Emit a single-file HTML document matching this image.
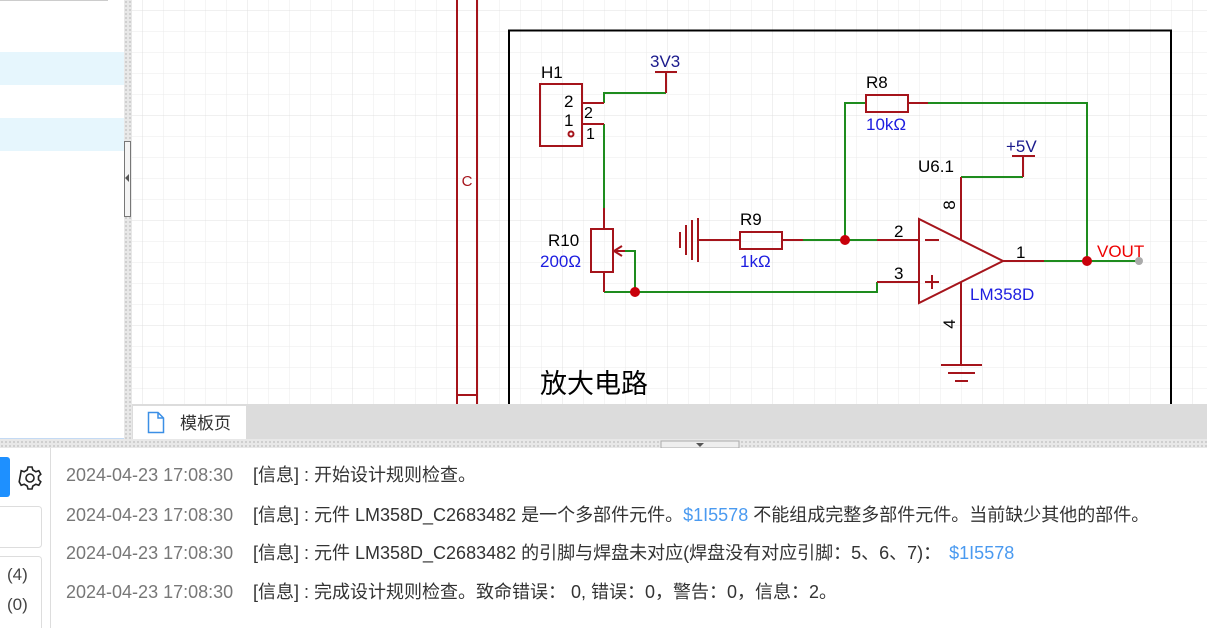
<!DOCTYPE html>
<html><head><meta charset="utf-8"><style>
html,body{margin:0;padding:0;width:1207px;height:628px;overflow:hidden;background:#fff}
svg{display:block}
</style></head><body>
<svg width="1207" height="628" viewBox="0 0 1207 628" xmlns="http://www.w3.org/2000/svg" font-family="'Liberation Sans','Noto Sans CJK SC',sans-serif">
<defs>
<pattern id="g" x="142" y="10" width="21" height="21" patternUnits="userSpaceOnUse">
<path d="M0 0V21M0 0H21" stroke="#ebebeb" stroke-width="1" fill="none"/>
</pattern>
<pattern id="G" x="142" y="10" width="105" height="105" patternUnits="userSpaceOnUse">
<path d="M0 0V105M0 0H105" stroke="#e0e0e0" stroke-width="1" fill="none"/>
</pattern>
<pattern id="dots" width="4" height="4" patternUnits="userSpaceOnUse"><rect width="4" height="4" fill="#e8e8e8"/><rect x="1" y="1" width="2" height="2" fill="#cfcfcf"/></pattern>
</defs>
<rect x="0" y="0" width="124" height="438" fill="#fff"/>
<line x1="0" y1="0.5" x2="108" y2="0.5" stroke="#ccc"/>
<rect x="0" y="52" width="124" height="33" fill="#e6f6fd"/>
<rect x="0" y="118" width="124" height="33" fill="#e6f6fd"/>
<line x1="0" y1="439" x2="124" y2="439" stroke="#8ab4e8"/>
<rect x="124" y="0" width="8" height="440" fill="url(#dots)"/>
<rect x="124.5" y="141.5" width="6" height="75" fill="#f4f4f4" stroke="#777"/>
<path d="M125 178 L129 174 L129 182Z" fill="#555"/>
<rect x="132" y="0" width="1075" height="404" fill="#fff"/>
<rect x="132" y="0" width="1075" height="404" fill="url(#g)"/>
<rect x="132" y="0" width="1075" height="404" fill="url(#G)"/>
<g stroke="#a5141b" stroke-width="2" fill="none">
<line x1="457" y1="0" x2="457" y2="404"/><line x1="477" y1="0" x2="477" y2="404"/>
<line x1="457" y1="395" x2="477" y2="395"/>
</g>
<text x="467" y="186" font-size="15" fill="#a5141b" text-anchor="middle">C</text>
<path d="M509 404 V30.5 H1171 V404" stroke="#000" stroke-width="2" fill="none"/>
<g stroke="#1e8c1e" stroke-width="2" fill="none">
<polyline points="604,103 604,93 666,93"/>
<polyline points="604,124 604,208"/>
<polyline points="604,292 635,292"/>
<polyline points="625,251 635,251 635,292 877,292 877,282"/>
<polyline points="803,240 877,240"/>
<polyline points="845,240 845,103 865,103"/>
<polyline points="928,103 1087,103 1087,261"/>
<polyline points="1044,261 1137,261"/>
<polyline points="961,177 1023,177"/>
</g>
<g stroke="#a5141b" stroke-width="2" fill="none">
<rect x="540" y="84" width="42" height="62"/>
<line x1="582" y1="103" x2="604" y2="103"/>
<line x1="582" y1="124" x2="604" y2="124"/>
<circle cx="571" cy="134" r="2.5"/>
<line x1="666" y1="93" x2="666" y2="72"/>
<line x1="655" y1="72" x2="677" y2="72"/>
<line x1="604" y1="208" x2="604" y2="229"/>
<rect x="591" y="229" width="22" height="43"/>
<line x1="604" y1="272" x2="604" y2="292"/>
<line x1="614" y1="251" x2="625" y2="251"/>
<path d="M614 251 L622 246 M614 251 L622 256"/>
<line x1="686" y1="225" x2="686" y2="255"/>
<line x1="692" y1="220" x2="692" y2="260"/>
<line x1="698" y1="218" x2="698" y2="262"/>
<line x1="680" y1="232" x2="680" y2="248"/>
<line x1="698" y1="240" x2="740" y2="240"/>
<rect x="740" y="232" width="42" height="17"/>
<line x1="782" y1="240" x2="803" y2="240"/>
<line x1="877" y1="240" x2="919" y2="240"/>
<line x1="877" y1="282" x2="919" y2="282"/>
<rect x="866" y="95" width="42" height="17"/>
<line x1="908" y1="103" x2="928" y2="103"/>
<path d="M919 219 L919 303 L1003 261 Z"/>
<line x1="1003" y1="261" x2="1044" y2="261"/>
<line x1="961" y1="240" x2="961" y2="177"/>
<line x1="1023" y1="177" x2="1023" y2="156"/>
<line x1="1012" y1="156" x2="1035" y2="156"/>
<line x1="961" y1="282" x2="961" y2="365"/>
<line x1="941" y1="365" x2="982" y2="365"/>
<line x1="948" y1="373" x2="975" y2="373"/>
<line x1="955" y1="381" x2="968" y2="381"/>
<line x1="925" y1="240" x2="939" y2="240"/>
<line x1="925" y1="282" x2="939" y2="282"/><line x1="932" y1="275" x2="932" y2="289"/>
</g>
<g fill="#c8000a">
<circle cx="635" cy="292" r="5"/><circle cx="845" cy="240" r="5"/><circle cx="1087" cy="261" r="5"/>
</g>
<circle cx="1139" cy="261" r="4" fill="#aaa"/>
<g font-size="17" fill="#000">
<text x="541" y="78">H1</text>
<text x="564" y="107">2</text>
<text x="564" y="126">1</text>
<text x="584" y="118" font-size="16">2</text>
<text x="586" y="139" font-size="16">1</text>
<text x="650" y="67" fill="#1a1a8c">3V3</text>
<text x="548" y="246">R10</text>
<text x="740" y="225">R9</text>
<text x="866" y="88">R8</text>
<text x="1006" y="152" fill="#1a1a8c">+5V</text>
<text x="918" y="172">U6.1</text>
<text x="894" y="237">2</text>
<text x="894" y="279">3</text>
<text x="1016" y="258">1</text>
<text transform="translate(955,205) rotate(-90)" text-anchor="middle">8</text>
<text transform="translate(955,324) rotate(-90)" text-anchor="middle">4</text>
</g>
<g font-size="17" fill="#1d1de0">
<text x="540" y="267">200Ω</text>
<text x="740" y="267">1kΩ</text>
<text x="866" y="130">10kΩ</text>
<text x="970" y="300">LM358D</text>
</g>
<text x="1097" y="257" font-size="17" fill="#e00">VOUT</text>
<text x="540" y="393" font-size="27" fill="#000">放大电路</text>
<rect x="132" y="404" width="1075" height="35" fill="#dcdcdc"/>
<rect x="133" y="406" width="113" height="33" fill="#fff"/>
<path d="M148.5 412.5 H158 L163.5 418 V432.5 H148.5 Z M158 412.5 V418 H163.5" fill="none" stroke="#3b8fe6" stroke-width="1.5"/>
<text x="180" y="429" font-size="17" fill="#333">模板页</text>
<rect x="0" y="439" width="1207" height="9" fill="url(#dots)"/>
<rect x="661" y="441" width="78" height="7" fill="#eee" stroke="#aaa"/>
<path d="M696 443 L704 443 L700 447Z" fill="#555"/>
<rect x="0" y="448" width="1207" height="180" fill="#fff"/>
<line x1="50.5" y1="448" x2="50.5" y2="628" stroke="#ddd"/>
<rect x="-5" y="457" width="15" height="40" rx="3" fill="#1e90ff"/>
<g transform="translate(30,478)" fill="none" stroke="#222" stroke-width="1.6">
<circle r="4"/>
<path d="M-2 -11 H2 L2.8 -8 L5.8 -6.3 L8.8 -7.3 L10.8 -3.8 L8.5 -1.7 V1.7 L10.8 3.8 L8.8 7.3 L5.8 6.3 L2.8 8 L2 11 H-2 L-2.8 8 L-5.8 6.3 L-8.8 7.3 L-10.8 3.8 L-8.8 -7.3 L-5.8 -6.3 L-2.8 -8 Z"/>
</g>
<rect x="-5" y="506.5" width="46.5" height="41" rx="3" fill="none" stroke="#ddd"/>
<rect x="-5" y="556.5" width="46.5" height="80" rx="3" fill="none" stroke="#ddd"/>
<text x="7" y="580" font-size="17" fill="#444">(4)</text>
<text x="7" y="610" font-size="17" fill="#444">(0)</text>
<g font-size="18">
<text x="66" y="481" fill="#777">2024-04-23 17:08:30</text>
<text x="66" y="521" fill="#777">2024-04-23 17:08:30</text>
<text x="66" y="559" fill="#777">2024-04-23 17:08:30</text>
<text x="66" y="598" fill="#777">2024-04-23 17:08:30</text>
<text x="253" y="481" fill="#333">[信息] : 开始设计规则检查。</text>
<text x="253" y="521" fill="#333">[信息] : 元件 LM358D_C2683482 是一个多部件元件。<tspan fill="#4a9af0">$1I5578</tspan> 不能组成完整多部件元件。当前缺少其他的部件。</text>
<text x="253" y="559" fill="#333">[信息] : 元件 LM358D_C2683482 的引脚与焊盘未对应(焊盘没有对应引脚：5、6、7)：<tspan fill="#4a9af0" dx="8">$1I5578</tspan></text>
<text x="253" y="598" fill="#333">[信息] : 完成设计规则检查。致命错误： 0, 错误：0，警告：0，信息：2。</text>
</g>
</svg>
</body></html>
